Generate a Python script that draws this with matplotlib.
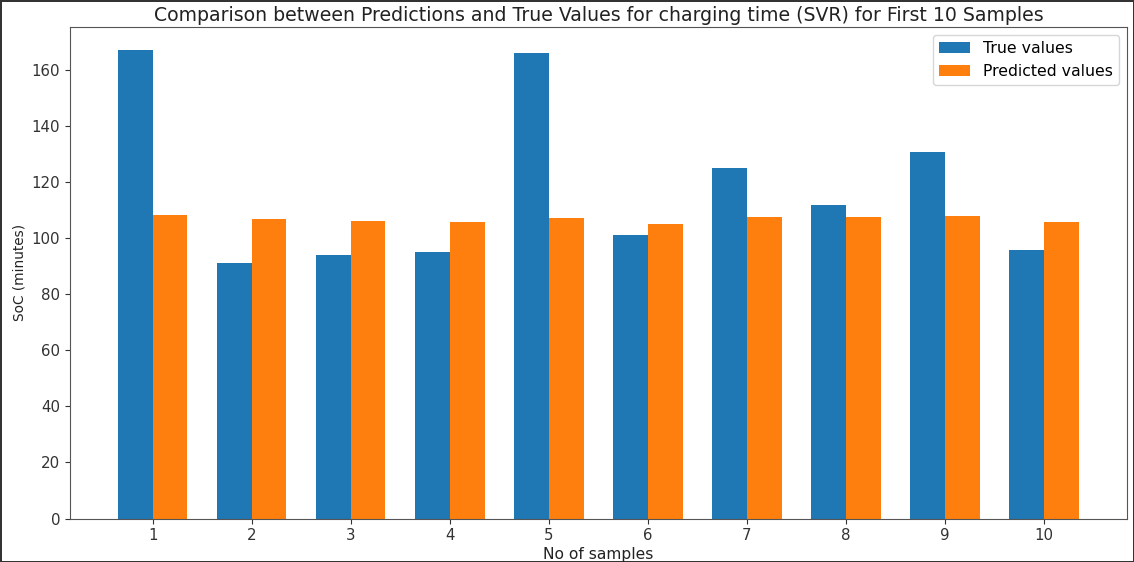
import matplotlib
matplotlib.use("Agg")
import matplotlib.pyplot as plt
import numpy as np

samples = [1, 2, 3, 4, 5, 6, 7, 8, 9, 10]
true_values = [167.1, 91.2, 94.1, 95.2, 166.1, 101.1, 125.0, 112.0, 131.0, 95.9]
predicted_values = [108.4, 106.8, 106.3, 106.0, 107.3, 105.3, 107.7, 107.7, 108.1, 106.0]

fig = plt.figure(figsize=(11.34, 5.62), dpi=100)
fig.patch.set_edgecolor("#333333")
fig.patch.set_linewidth(2)
ax = fig.add_axes([0.0617, 0.0774, 0.932, 0.8746])

x = np.arange(1, len(samples) + 1)
w = 0.35
ax.bar(x - w / 2, true_values, w, label="True values", color="#1f77b4")
ax.bar(x + w / 2, predicted_values, w, label="Predicted values", color="#ff7f0e")

ax.set_xticks(x)
ax.set_xticklabels([str(s) for s in samples])
ax.tick_params(labelsize=10.8, colors="#333333")
ax.set_xlabel("No of samples", fontsize=11.2, color="#222222", labelpad=3)
ax.set_ylabel("SoC (minutes)", fontsize=9.8, color="#222222", labelpad=4)
ax.set_title("Comparison between Predictions and True Values for charging time (SVR) for First 10 Samples",
             fontsize=13.6, color="#222222", pad=4)
for s in ax.spines.values():
    s.set_color("#555555")
ax.legend(loc="upper right", fontsize=11.3, borderaxespad=0.5)

fig.savefig("out.png", dpi=100, edgecolor=fig.get_edgecolor())
